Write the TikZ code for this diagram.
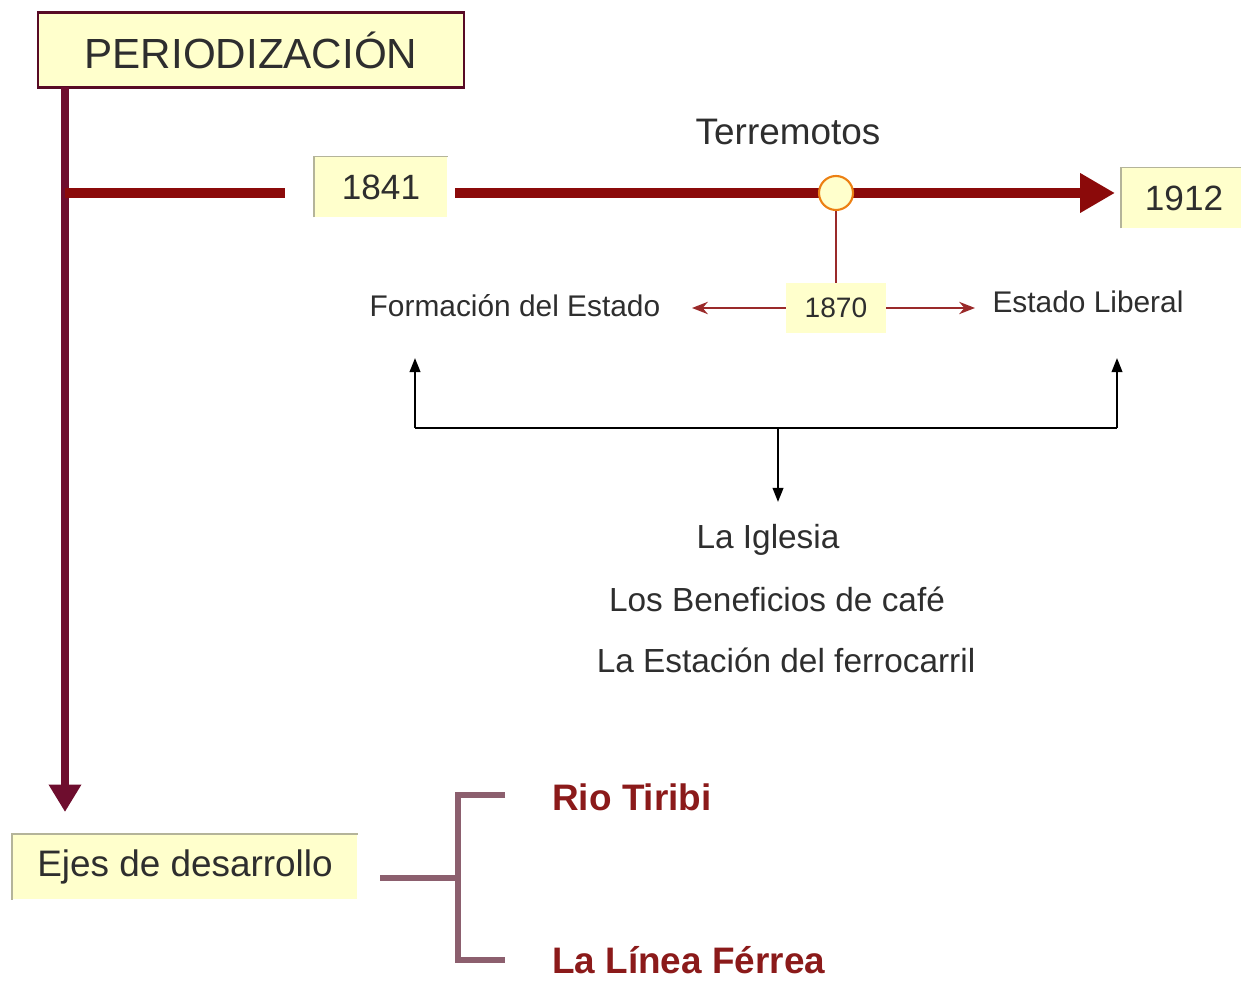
\documentclass[tikz,border=0pt]{standalone}
\usepackage{xcolor}
\usepackage{fontspec}
\setmainfont{Liberation Sans}
\usepackage{tikz}
\usetikzlibrary{arrows.meta,calc}

\definecolor{boxyellow}{HTML}{FFFFCC}
\definecolor{maroon}{HTML}{6E0D2E}
\definecolor{darkred}{HTML}{8B0A0A}
\definecolor{thinred}{HTML}{9A2A2A}
\definecolor{mauve}{HTML}{8C5F6E}
\definecolor{textgray}{HTML}{2E2E2E}
\definecolor{edgegray}{HTML}{B4B49A}
\definecolor{titlered}{HTML}{8B1A1A}

\tikzset{
  yearbox/.style={fill=boxyellow, inner sep=0pt, text=textgray},
  plain/.style={text=textgray, inner sep=0pt},
  thinarrow/.style={thinred, line width=1.2pt, -{Stealth[length=9pt,width=7pt]}},
  blackarrow/.style={black, line width=1.2pt, -{Triangle[length=8pt,width=6pt]}},
  bracket/.style={mauve, line width=3.4pt},
}

\begin{document}
\begin{tikzpicture}[x=0.02cm, y=-0.02cm]
  \useasboundingbox (0,0) rectangle (1241,982);

  % title box
  \node[fill=boxyellow, draw=maroon!80!black, line width=1.2pt, minimum width=8.52cm, minimum height=1.5cm, text=textgray]
    (titulo) at (251,50) {\fontsize{24}{28}\selectfont PERIODIZACIÓN};

  % year boxes
  \node[yearbox, minimum width=2.66cm, minimum height=1.2cm] (y1841) at (381,187) {\fontsize{20}{24}\selectfont 1841};
  \node[yearbox, minimum width=2.5cm, minimum height=1.2cm] (y1912) at (1184,198) {\fontsize{20}{24}\selectfont 1912};
  \node[yearbox, minimum width=2cm, minimum height=1cm] (y1870) at (836,308) {\fontsize{16}{19}\selectfont 1870};
  \node[yearbox, minimum width=6.9cm, minimum height=1.3cm] (ejes) at (185,867) {\fontsize{21}{25}\selectfont Ejes de desarrollo};
  \foreach \b in {y1841,y1912,ejes}
    \draw[edgegray, line width=0.8pt] (\b.south west) -- (\b.north west) -- (\b.north east);

  % main axis
  \coordinate (axistop) at (65,87);
  \coordinate (axisend) at (65,812);
  \coordinate (branch) at (65,193);
  \coordinate (branchend) at (285,193);
  \draw[maroon, line width=4.6pt, -{Triangle[length=0.55cm,width=0.62cm]}] (axistop) -- (axisend);
  \draw[darkred, line width=5.6pt] (branch) -- (branchend);

  % time line
  \coordinate (tlstart) at (455,193);
  \coordinate (tlend) at (1115,193);
  \draw[darkred, line width=5.6pt, -{Triangle[length=0.7cm,width=0.75cm]}] (tlstart) -- (tlend);
  \node[circle, fill=boxyellow, draw=orange!70!brown, line width=1.2pt, minimum size=0.68cm, inner sep=0pt] (sismo) at (836,193) {};
  \node[plain] (terremotos) at (788,132) {\fontsize{21}{25}\selectfont Terremotos};
  \draw[thinred, line width=1.2pt] (sismo.south) -- (y1870.north);

  % periods
  \node[plain] (formacion) at (515,306) {\fontsize{17}{20}\selectfont Formación del Estado};
  \node[plain] (liberal) at (1088,302) {\fontsize{17}{20}\selectfont Estado Liberal};
  \coordinate (izq) at (692,308);
  \coordinate (der) at (975,308);
  \draw[thinarrow] (y1870.west) -- (izq);
  \draw[thinarrow] (y1870.east) -- (der);

  % links below
  \coordinate (upleft) at (415,358);
  \coordinate (upright) at (1117,358);
  \coordinate (junction) at (778,428);
  \coordinate (down) at (778,502);
  \draw[black, line width=1.2pt] (upleft |- junction) -- (upright |- junction);
  \draw[blackarrow] (upleft |- junction) -- (upleft);
  \draw[blackarrow] (upright |- junction) -- (upright);
  \draw[blackarrow] (junction) -- (down);

  \node[plain] (iglesia) at (768,540) {\fontsize{19}{23}\selectfont La Iglesia};
  \node[plain] (beneficios) at (777,599) {\fontsize{19}{23}\selectfont Los Beneficios de café};
  \node[plain] (estacion) at (786,660) {\fontsize{19}{23}\selectfont La Estación del ferrocarril};

  % ejes
  \coordinate (brin) at (380,878);
  \coordinate (brmid) at (460,878);
  \coordinate (brtop) at (458,795);
  \coordinate (brbot) at (458,960);
  \draw[bracket] (brin) -- (brmid);
  \draw[bracket] ($(brtop)+(47,0)$) -- (brtop) -- (brbot) -- ++(47,0);
  \node[anchor=west, text=titlered, inner sep=0pt] (tiribi) at (552,797) {\fontsize{21}{25}\selectfont\bfseries Rio Tiribi};
  \node[anchor=west, text=titlered, inner sep=0pt] (ferrea) at (552,960) {\fontsize{21}{25}\selectfont\bfseries La Línea Férrea};
\end{tikzpicture}
\end{document}
